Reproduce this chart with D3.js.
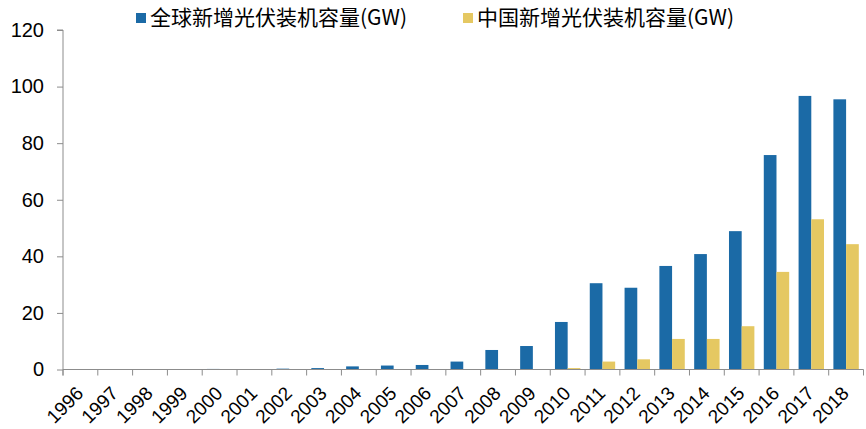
<!DOCTYPE html>
<html>
<head>
<meta charset="utf-8">
<script src="https://cdn.jsdelivr.net/npm/d3@7"></script>
<style>
  html, body { margin: 0; padding: 0; background: #fff; }
  svg { display: block; }
</style>
</head>
<body>
<svg id="chart" width="866" height="429"></svg>
<script>
// Annual new PV installations, GW
const years = ["1996","1997","1998","1999","2000","2001","2002","2003","2004","2005","2006","2007",
               "2008","2009","2010","2011","2012","2013","2014","2015","2016","2017","2018"];
const globalAdded = [0.1, 0.05, 0.05, 0.1, 0.2, 0.1, 0.3, 0.5, 1.1, 1.4, 1.6, 2.8,
                     6.9, 8.3, 16.8, 30.5, 28.9, 36.6, 40.8, 48.9, 75.8, 96.7, 95.5];
const chinaAdded  = [0, 0, 0, 0, 0, 0, 0, 0, 0, 0, 0, 0,
                     0, 0, 0.5, 2.8, 3.6, 10.8, 10.8, 15.3, 34.5, 53.1, 44.3];
const seriesNames = ["全球新增光伏装机容量(GW)", "中国新增光伏装机容量(GW)"];
const seriesColors = ["#1b6aa6", "#e5c862"];
const yTicks = [0, 20, 40, 60, 80, 100, 120];

const svg = d3.select("#chart");
const plotLeft = 63, plotRight = 863.5, plotTop = 30, plotBottom = 369.5;
const latin = "'Liberation Sans', Arial, sans-serif";
const cjk = "'Noto Sans CJK SC', 'Liberation Sans', sans-serif";

const x = d3.scaleBand().domain(years).range([plotLeft, plotRight]).paddingInner(0).paddingOuter(0);
const xSeries = d3.scaleBand().domain([0, 1]).range([0, x.bandwidth()]).paddingInner(0).paddingOuter(0.37);
const y = d3.scaleLinear().domain([0, 120]).range([plotBottom, plotTop]);

const rows = years.map((yr, i) => ({ year: yr, values: [globalAdded[i], chinaAdded[i]] }));

// bars
const groups = svg.append("g").selectAll("g").data(rows).join("g")
  .attr("transform", d => `translate(${x(d.year)},0)`);
groups.selectAll("rect").data(d => d.values.map((v, k) => ({ v, k }))).join("rect")
  .attr("x", d => xSeries(d.k))
  .attr("width", xSeries.bandwidth())
  .attr("y", d => y(d.v))
  .attr("height", d => plotBottom - y(d.v))
  .attr("fill", d => seriesColors[d.k]);

// y axis
const yAxis = svg.append("g").attr("transform", `translate(${plotLeft},0)`)
  .call(d3.axisLeft(y).tickValues(yTicks).tickSize(6).tickPadding(13).tickFormat(d3.format("d")));
yAxis.select(".domain").attr("stroke", "#8c8c8c").attr("d", `M-6,${plotTop}H0V${plotBottom + 6}`);
yAxis.selectAll(".tick line").attr("stroke", "#8c8c8c");
yAxis.selectAll(".tick text").attr("font-family", latin).attr("font-size", 20).attr("fill", "#000");

// x axis: ticks sit on category boundaries
const xAxis = svg.append("g").attr("transform", `translate(0,${plotBottom})`);
xAxis.append("line").attr("x1", plotLeft).attr("x2", plotRight).attr("stroke", "#8c8c8c");
const bounds = years.map(yr => x(yr)).concat([plotRight]);
xAxis.selectAll("line.tk").data(bounds).join("line").attr("class", "tk")
  .attr("x1", d => d).attr("x2", d => d).attr("y1", 0).attr("y2", 6).attr("stroke", "#8c8c8c");
xAxis.selectAll("text").data(years).join("text")
  .attr("transform", d => `translate(${x(d) + x.bandwidth() / 2 + 4},${25}) rotate(-45)`)
  .attr("text-anchor", "end")
  .attr("font-family", latin).attr("font-size", 19).attr("fill", "#000")
  .text(d => d);

// legend
const legendX = [136, 463];
const legend = svg.append("g").selectAll("g").data(seriesNames).join("g")
  .attr("transform", (d, i) => `translate(${legendX[i]},0)`);
legend.append("rect").attr("x", 0).attr("y", 13).attr("width", 10).attr("height", 10)
  .attr("fill", (d, i) => seriesColors[i]);
legend.append("text").attr("x", 14).attr("y", 25)
  .attr("font-family", cjk).attr("font-size", 21).attr("fill", "#000")
  .text(d => d);
</script>
</body>
</html>
